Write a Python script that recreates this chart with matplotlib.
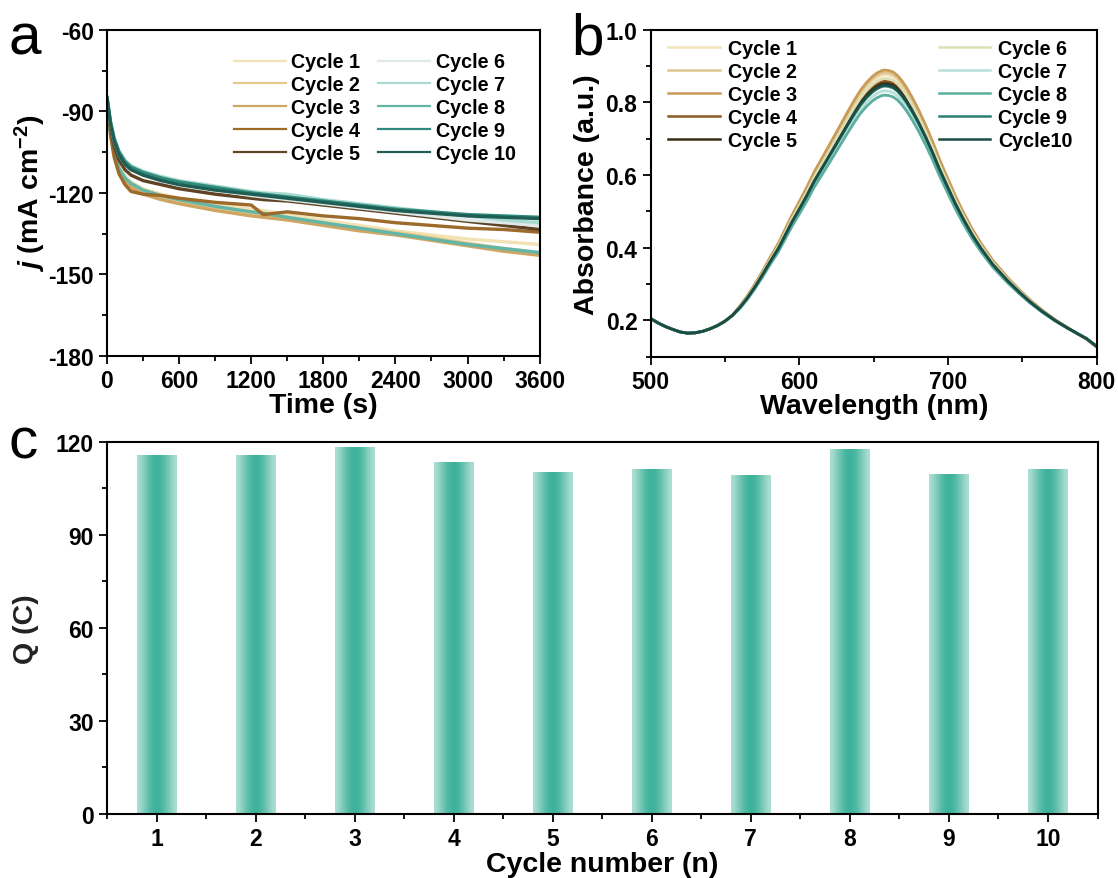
import numpy as np
import matplotlib.pyplot as plt
from matplotlib.colors import ListedColormap
from matplotlib.ticker import MultipleLocator

plt.rcParams['font.family'] = ['Liberation Sans', 'DejaVu Sans']
plt.rcParams['font.weight'] = 'bold'
plt.rcParams['axes.unicode_minus'] = False
plt.rcParams['mathtext.fontset'] = 'custom'
plt.rcParams['mathtext.rm'] = 'Liberation Sans:bold'
plt.rcParams['mathtext.it'] = 'Liberation Sans:bold:italic'
plt.rcParams['mathtext.bf'] = 'Liberation Sans:bold'

# ---------------- data ----------------
labels_a = ['Cycle 1', 'Cycle 2', 'Cycle 3', 'Cycle 4', 'Cycle 5',
            'Cycle 6', 'Cycle 7', 'Cycle 8', 'Cycle 9', 'Cycle 10']
labels_b = ['Cycle 1', 'Cycle 2', 'Cycle 3', 'Cycle 4', 'Cycle 5',
            'Cycle 6', 'Cycle 7', 'Cycle 8', 'Cycle 9', 'Cycle10']
colors_a = ['#f2e2b4', '#e8c98c', '#cfa563', '#9c6a2a', '#5e4325',
            '#dfeae8', '#a9dad1', '#62b6a8', '#2f8a7c', '#1f5e55']
colors_b = ['#f2e4b6', '#dfc591', '#c99b57', '#8c5a20', '#3b2a16',
            '#dcdfb4', '#b6e0d9', '#5bafa1', '#2b7f72', '#1c4d45']

# panel a: chronoamperometry, j (mA cm-2) read at these times (s)
time_s = [0, 30, 60, 100, 150, 200, 300, 450, 600, 900, 1200, 1300, 1500,
          1800, 2100, 2400, 2700, 3000, 3300, 3600]
j_c1 = [-85, -97, -104, -110, -114, -116, -118.5, -120.5, -122, -124, -126, -126.5, -128,
        -130, -132, -134, -135.5, -137, -138, -139]
j_c2 = [-85, -98, -106, -112, -115.5, -117.5, -120, -122, -123.5, -126, -128, -128.5, -129.5,
        -131.5, -133, -134.5, -136.5, -138.5, -140.5, -142]
j_c3 = [-85, -98, -106, -112, -116, -118, -120.5, -122.5, -124, -126.5, -128.5, -129, -130,
        -132, -134, -135.5, -137.5, -139.5, -141.5, -143]
j_c4 = [-85, -99, -107, -113, -117, -119.5, -120.5, -121, -122, -123.5, -124.5, -128, -127,
        -128.5, -129.5, -131, -132, -133, -133.5, -134.5]
j_c5 = [-85, -96, -103, -108, -111.5, -113.5, -115.5, -117, -118.5, -120.5, -122, -122.5, -123,
        -124.5, -126, -127.5, -129, -130.5, -132, -133.5]
j_c6 = [-85, -95, -101, -106, -109.5, -111.5, -113.5, -115.5, -117, -119, -121, -121.5, -122.5,
        -124, -125.5, -127, -128.5, -130, -131, -132]
j_c7 = [-85, -94, -100, -104.5, -108, -110, -112, -114, -115.5, -117.5, -119.5, -120, -120.5,
        -122.5, -124, -125.5, -127, -128.5, -130, -131]
j_c8 = [-85, -97, -105, -111, -114.5, -116.5, -119, -121, -122.5, -125, -127, -127.5, -129,
        -131, -133, -135, -137, -139, -140.5, -142]
j_c9 = [-85, -94, -100, -105, -108.5, -110.5, -112.5, -114.5, -116, -118, -120, -120.5, -121.5,
        -123, -124.5, -126, -127, -128, -128.5, -129]
j_c10 = [-85, -95, -101, -106, -109.5, -111.5, -113.5, -115.5, -117, -119, -120.5, -121, -122,
         -123.5, -125, -126.5, -127.5, -128.5, -129, -129.5]
j_curves = [j_c1, j_c2, j_c3, j_c4, j_c5, j_c6, j_c7, j_c8, j_c9, j_c10]

# panel b: UV-vis absorbance, shared shape
wavelength = [500, 505, 510, 515, 520, 525, 530, 535, 540, 545, 550, 555, 560, 565,
              570, 575, 580, 586, 590, 595, 600, 605, 610, 618, 623, 628, 633, 637,
              641, 645, 649, 652, 655, 657, 660, 663, 666, 669, 672, 676, 680, 685,
              690, 694, 700, 705, 710, 716, 722, 730, 740, 748, 755, 763, 772, 780,
              786, 793, 800]
abs_base = [0.205, 0.193, 0.183, 0.175, 0.168, 0.165, 0.166, 0.170, 0.177, 0.186,
            0.198, 0.214, 0.236, 0.262, 0.292, 0.325, 0.360, 0.400, 0.432, 0.472,
            0.508, 0.545, 0.585, 0.640, 0.675, 0.710, 0.745, 0.772, 0.797, 0.817,
            0.833, 0.842, 0.848, 0.850, 0.849, 0.845, 0.836, 0.822, 0.805, 0.778,
            0.748, 0.706, 0.660, 0.620, 0.566, 0.522, 0.482, 0.438, 0.400, 0.355,
            0.310, 0.278, 0.252, 0.226, 0.200, 0.180, 0.166, 0.150, 0.128]
# peak absorbance of each cycle
abs_peak = [0.876, 0.882, 0.889, 0.858, 0.852, 0.866, 0.832, 0.820, 0.845, 0.848]

# panel c: charge per cycle
cycles = [1, 2, 3, 4, 5, 6, 7, 8, 9, 10]
charge = [115.8, 115.8, 118.3, 113.5, 110.3, 111.3, 109.3, 117.6, 109.7, 111.3]

# ---------------- figure ----------------
fig = plt.figure(figsize=(11.18, 8.79), dpi=100)
ax_a = fig.add_axes([0.0957, 0.594, 0.387, 0.371])
ax_b = fig.add_axes([0.582, 0.593, 0.399, 0.372])
ax_c = fig.add_axes([0.0957, 0.073, 0.886, 0.423])

tick_fs = 16.5
label_fs = 20.5
leg_prop = {'weight': 'bold', 'size': 14.2}

def style_axis(ax):
    for sp in ax.spines.values():
        sp.set_linewidth(1.5)
    ax.tick_params(which='both', direction='out', width=1.3, labelsize=tick_fs,
                   top=False, right=False)
    ax.tick_params(which='major', length=6)
    ax.tick_params(which='minor', length=3.5)

# a
order = [0, 1, 2, 7, 3, 4, 5, 6, 8, 9]
for i in order:
    ax_a.plot(time_s, j_curves[i], color=colors_a[i], lw=2.4, label=labels_a[i])
ax_a.set_xlim(0, 3600)
ax_a.set_ylim(-180, -60)
ax_a.xaxis.set_major_locator(MultipleLocator(600))
ax_a.xaxis.set_minor_locator(MultipleLocator(300))
ax_a.yaxis.set_major_locator(MultipleLocator(30))
ax_a.yaxis.set_minor_locator(MultipleLocator(15))
style_axis(ax_a)
ax_a.set_xlabel('Time (s)', fontsize=label_fs, fontweight='bold', labelpad=0)
ax_a.set_ylabel(r'$j$ (mA cm$^{-2}$)', fontsize=label_fs, fontweight='bold', labelpad=0)
h, l = ax_a.get_legend_handles_labels()
hd = dict(zip(l, h))
ax_a.legend([hd[k] for k in labels_a], labels_a, ncol=2, frameon=False,
            loc='upper right', bbox_to_anchor=(0.985, 0.985), prop=leg_prop,
            handlelength=2.6, labelspacing=0.2, columnspacing=0.9, handletextpad=0.3)
for line in ax_a.get_legend().get_lines():
    line.set_linewidth(1.6)

# b
wl = np.array(wavelength)
base = np.array(abs_base)
for i in range(10):
    # stretch the shared shape so its maximum matches the read peak value
    y = 0.165 + (base - 0.165) * (abs_peak[i] - 0.165) / (0.85 - 0.165)
    y = np.where(wl < 560, base, y)
    ax_b.plot(wl, y, color=colors_b[i], lw=2.0, label=labels_b[i])
ax_b.set_xlim(500, 800)
ax_b.set_ylim(0.1, 1.0)
ax_b.xaxis.set_major_locator(MultipleLocator(100))
ax_b.xaxis.set_minor_locator(MultipleLocator(50))
ax_b.yaxis.set_minor_locator(MultipleLocator(0.1))
ax_b.set_yticks([0.2, 0.4, 0.6, 0.8, 1.0])
ax_b.set_yticklabels(['0.2', '0.4', '0.6', '0.8', '1.0'])
style_axis(ax_b)
ax_b.set_xlabel('Wavelength (nm)', fontsize=label_fs, fontweight='bold', labelpad=0)
ax_b.set_ylabel('Absorbance (a.u.)', fontsize=label_fs, fontweight='bold', labelpad=4)
hb = ax_b.get_lines()
leg1 = ax_b.legend(hb[:5], labels_b[:5], loc='upper left', frameon=False,
                   bbox_to_anchor=(0.0, 1.025), prop=leg_prop,
                   handlelength=2.6, labelspacing=0.2, handletextpad=0.4)
ax_b.add_artist(leg1)
leg2 = ax_b.legend(hb[5:], labels_b[5:], loc='upper right', frameon=False,
                   bbox_to_anchor=(0.985, 1.025), prop=leg_prop,
                   handlelength=2.6, labelspacing=0.2, handletextpad=0.4)
for lg in (leg1, leg2):
    for line in lg.get_lines():
        line.set_linewidth(1.8)

# c: bars with horizontal gradient (light edges, dark centre)
edge = np.array([0.68, 0.87, 0.83])
mid = np.array([0.25, 0.70, 0.61])
u = np.linspace(-1, 1, 256)
wgt = np.cos(u * np.pi / 2) ** 1.5
grad_cols = edge[None, :] * (1 - wgt[:, None]) + mid[None, :] * wgt[:, None]
bar_cmap = ListedColormap(grad_cols)
grad = np.linspace(0, 1, 256).reshape(1, -1)
bw = 0.4
bars = ax_c.bar(cycles, charge, width=bw, color='none', edgecolor='none')
for b in bars:
    x0 = b.get_x()
    ax_c.imshow(grad, cmap=bar_cmap, aspect='auto', interpolation='nearest',
                extent=[x0, x0 + b.get_width(), 0, b.get_height()], zorder=2)
ax_c.set_xlim(0.5, 10.5)
ax_c.set_ylim(0, 120)
ax_c.set_xticks(cycles)
ax_c.xaxis.set_minor_locator(MultipleLocator(0.5))
ax_c.yaxis.set_major_locator(MultipleLocator(30))
ax_c.yaxis.set_minor_locator(MultipleLocator(15))
style_axis(ax_c)
ax_c.set_xlabel('Cycle number (n)', fontsize=label_fs, fontweight='bold', labelpad=1)
ax_c.set_ylabel('Q (C)', fontsize=label_fs, fontweight='bold', labelpad=12, color='#222222')

# panel letters
fig.text(0.008, 0.955, 'a', fontsize=42, fontweight='normal', va='center')
fig.text(0.511, 0.955, 'b', fontsize=42, fontweight='normal', va='center')
fig.text(0.008, 0.495, 'c', fontsize=42, fontweight='normal', va='center')

fig.savefig('out.png', dpi=100)
